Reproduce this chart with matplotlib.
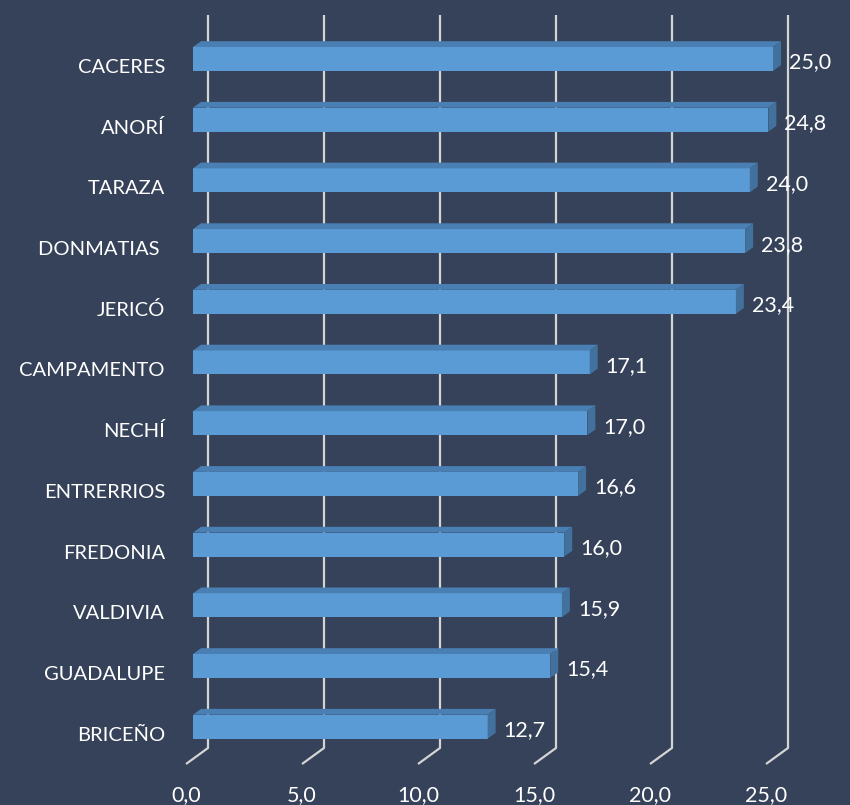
import matplotlib
matplotlib.use("Agg")
import matplotlib.pyplot as plt
from matplotlib.patches import Polygon

categories = ["CACERES", "ANORÍ", "TARAZA", "DONMATIAS ", "JERICÓ", "CAMPAMENTO",
              "NECHÍ", "ENTRERRIOS", "FREDONIA", "VALDIVIA", "GUADALUPE", "BRICEÑO"]
values = [25.0, 24.8, 24.0, 23.8, 23.4, 17.1, 17.0, 16.6, 16.0, 15.9, 15.4, 12.7]
ticks = [0, 5, 10, 15, 20, 25]
tick_labels = ["0,0", "5,0", "10,0", "15,0", "20,0", "25,0"]

BG = "#354259"
FRONT = "#5b9bd5"
TOP = "#4a7fb3"
SIDE = "#41719c"
GRID = "#d4d4d4"
FONT = ["Lato", "DejaVu Sans"]

W, H = 850, 805
fig = plt.figure(figsize=(W / 100, H / 100), dpi=100, facecolor=BG)
ax = fig.add_axes([0, 0, 1, 1])
ax.set_facecolor(BG)
ax.axis("off")

# pixel <-> data mapping (x: value units, y: category index)
PX_X0, PX_PER_UNIT = 193.0, 23.2
PX_Y0, PX_PER_CAT = 59.0, 60.7
ax.set_xlim(-PX_X0 / PX_PER_UNIT, (W - PX_X0) / PX_PER_UNIT)
ax.set_ylim((H - PX_Y0) / PX_PER_CAT, -PX_Y0 / PX_PER_CAT)

def dx(px):
    return px / PX_PER_UNIT

def dy(px):
    return px / PX_PER_CAT

# gridlines (back wall + floor diagonal)
back_off = dx(15)
for t in ticks:
    xb = t + back_off
    ytop = dy(15 - PX_Y0)
    ybot = dy(748 - PX_Y0)
    xs = [xb, xb, xb - dx(22)]
    ys = [ytop, ybot, ybot + dy(16)]
    ax.plot(xs, ys, color=GRID, lw=1.6, zorder=1, solid_capstyle="butt")

for t, lab in zip(ticks, tick_labels):
    ax.text(t + back_off - dx(22), dy(801 - PX_Y0), lab, color="white",
            fontsize=15.5, ha="center", va="baseline", family=FONT, zorder=3)

# bars
h = dy(24)
ddx, ddy = dx(8), -dy(5.8)
for i, (cat, v) in enumerate(zip(categories, values)):
    yt, yb = i - h / 2, i + h / 2
    front = Polygon([(0, yt), (v, yt), (v, yb), (0, yb)], closed=True,
                    facecolor=FRONT, edgecolor="none", zorder=2)
    top = Polygon([(0, yt), (v, yt), (v + ddx, yt + ddy), (ddx, yt + ddy)],
                  closed=True, facecolor=TOP, edgecolor="none", zorder=2)
    side = Polygon([(v, yt), (v + ddx, yt + ddy), (v + ddx, yb + ddy), (v, yb)],
                   closed=True, facecolor=SIDE, edgecolor="none", zorder=2)
    for p in (front, top, side):
        ax.add_patch(p)
    ax.text(v + dx(16), i + dy(9.5), f"{v:.1f}".replace(".", ","), color="white",
            fontsize=15.5, ha="left", va="baseline", family=FONT, zorder=3)
    ax.text(dx(165 - PX_X0), i + dy(14), cat, color="white", fontsize=14.5,
            ha="right", va="baseline", family=FONT, zorder=3)

fig.savefig("out.png", dpi=100, facecolor=BG)
